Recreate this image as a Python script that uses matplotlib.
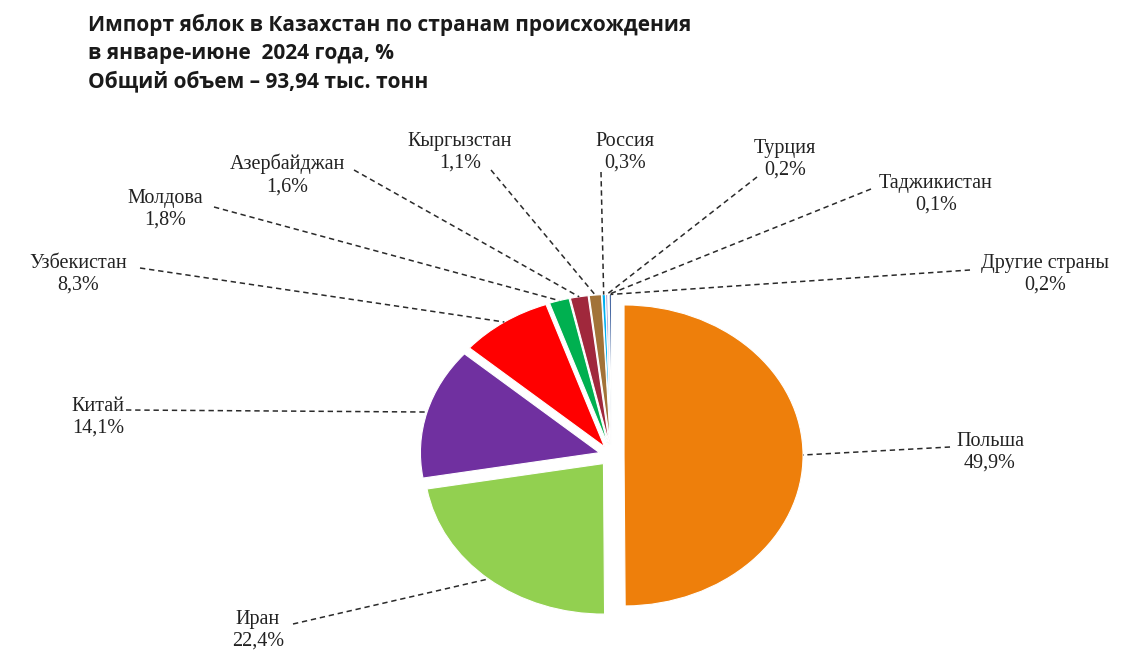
import numpy as np
import matplotlib
matplotlib.use("Agg")
import matplotlib.pyplot as plt

# ---- data ----
countries = ["Польша", "Иран", "Китай", "Узбекистан", "Молдова", "Азербайджан",
             "Кыргызстан", "Россия", "Турция", "Таджикистан", "Другие страны"]
shares = [49.9, 22.4, 14.1, 8.3, 1.8, 1.6, 1.1, 0.3, 0.2, 0.1, 0.2]
share_labels = ["49,9%", "22,4%", "14,1%", "8,3%", "1,8%", "1,6%",
                "1,1%", "0,3%", "0,2%", "0,1%", "0,2%"]
colors = ["#EE7F0B", "#92D050", "#7030A0", "#FF0000", "#00B050", "#A0283C",
          "#A27338", "#00B0F0", "#9E9AD0", "#1F3864", "#2F5597"]
title = ("Импорт яблок в Казахстан по странам происхождения\n"
         "в январе-июне  2024 года, %\n"
         "Общий объем – 93,94 тыс. тонн")

# ---- layout (pixels) ----
W, H = 1126, 664
cx, cy, rx, ry = 611.5, 455.5, 179.0, 150.5
explode = 0.07
# label text centre (first line) and leader start, in pixels
label_pos = [(990, 440), (258, 618), (98, 405), (78, 262), (165, 197), (287, 163),
             (460, 140), (625, 140), (785, 147), (936, 182), (1045, 262)]
leader_start = [(950, 447), (293, 624), (126, 410), (140, 268), (214, 207), (354, 170),
                (491, 170), (601, 172), (757, 177), (871, 189), (970, 270)]


def p2d(px, py):
    return (px - cx) / rx, (cy - py) / ry


fig = plt.figure(figsize=(W / 100, H / 100), dpi=100)
ax = fig.add_axes([0, 0, 1, 1])
ax.pie(shares, colors=colors, startangle=90, counterclock=False,
       explode=[explode] * len(shares), radius=1,
       wedgeprops=dict(edgecolor="white", linewidth=0.8))
ax.set_aspect("auto")
ax.set_xlim((0 - cx) / rx, (W - cx) / rx)
ax.set_ylim((cy - H) / ry, cy / ry)
ax.axis("off")

total = sum(shares)
cum = np.cumsum([0] + shares[:-1])
for i, (name, lab) in enumerate(zip(countries, share_labels)):
    mid = np.deg2rad(90 - 360 * (cum[i] + shares[i] / 2) / total)
    ex, ey = (1 + explode) * np.cos(mid), (1 + explode) * np.sin(mid)
    sx, sy = p2d(*leader_start[i])
    ax.plot([sx, ex], [sy, ey], color="#2a2a2a", lw=1.1, ls=(0, (3.5, 2.5)))
    tx, ty = p2d(label_pos[i][0], label_pos[i][1] + 12)
    ax.text(tx, ty, f"{name}\n{lab}", ha="center", va="center",
            multialignment="center", family="Liberation Serif", fontsize=14.5,
            color="#222222", linespacing=1.2)

fig.text(88 / W, 1 - 14 / H, title, ha="left", va="top", family="Open Sans",
         fontweight="bold", fontsize=15, color="#1a1a1a", linespacing=1.42)

fig.savefig("out.png", dpi=100)
